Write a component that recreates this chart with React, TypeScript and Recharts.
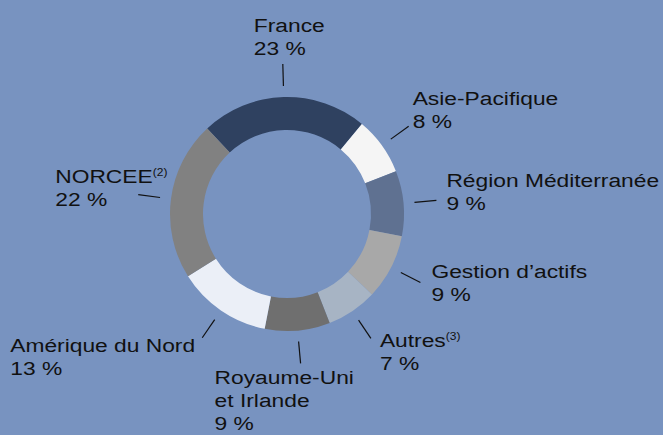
import React from "react";
import { PieChart, Pie, Cell } from "recharts";

const REGIONS = [
  "France",
  "Asie-Pacifique",
  "Région Méditerranée",
  "Gestion d’actifs",
  "Autres",
  "Royaume-Uni\net Irlande",
  "Amérique du Nord",
  "NORCEE",
];
const SHARES = [23, 8, 9, 9, 7, 9, 13, 22];
const NOTES = ["", "", "", "", "(3)", "", "", "(2)"];

const COLORS = ["#2f4160", "#f5f5f5", "#5f7191", "#a8a8a8", "#a7b4c4", "#6f6f6f", "#ebeff7", "#818181"];

// where each label's text starts, relative to the outer end of its leader line
const LABEL_OFFSETS: [number, number][] = [
  [-29, -32],
  [4, -21],
  [10, -13],
  [11, -5],
  [9, 9],
  [-86, 21],
  [-192, 14],
  [-83, -12],
];

const BG = "#7893c0";
const RADIAN = Math.PI / 180;
const LINE_H = 23;

const data = REGIONS.map((name, i) => ({ name, value: SHARES[i] }));

const renderLabel = ({ cx, cy, midAngle, outerRadius, index }: any) => {
  const cos = Math.cos(-midAngle * RADIAN);
  const sin = Math.sin(-midAngle * RADIAN);
  const x1 = cx + (outerRadius + 11) * cos;
  const y1 = cy + (outerRadius + 11) * sin;
  const x2 = cx + (outerRadius + 33) * cos;
  const y2 = cy + (outerRadius + 33) * sin;
  const [dx, dy] = LABEL_OFFSETS[index];
  const lines = [...REGIONS[index].split("\n"), `${SHARES[index]} %`];

  return (
    <g key={`lbl-${index}`}>
      <line x1={x1} y1={y1} x2={x2} y2={y2} stroke="#111" strokeWidth={1.2} />
      <g transform={`translate(${x2 + dx},${y2 + dy}) scale(1.2,1)`}>
        {lines.map((l, i) => (
          <text key={i} x={0} y={i * LINE_H} fill="#111" fontSize={19} fontFamily="'Liberation Sans', Arial, sans-serif">
            {l}
            {i === 0 && NOTES[index] ? (
              <tspan fontSize={10} dy={-7}>
                {NOTES[index]}
              </tspan>
            ) : null}
          </text>
        ))}
      </g>
    </g>
  );
};

export default function App() {
  return (
    <div style={{ position: "absolute", left: 0, top: 0, width: 663, height: 435, background: BG }}>
      <PieChart width={663} height={435} margin={{ top: 0, right: 0, bottom: 0, left: 0 }}>
        <Pie
          data={data}
          dataKey="value"
          nameKey="name"
          cx={287}
          cy={214}
          innerRadius={84}
          outerRadius={117}
          startAngle={133}
          endAngle={-227}
          stroke="none"
          labelLine={false}
          label={renderLabel}
          isAnimationActive={false}
        >
          {data.map((d, i) => (
            <Cell key={`cell-${i}`} fill={COLORS[i]} />
          ))}
        </Pie>
      </PieChart>
    </div>
  );
}
